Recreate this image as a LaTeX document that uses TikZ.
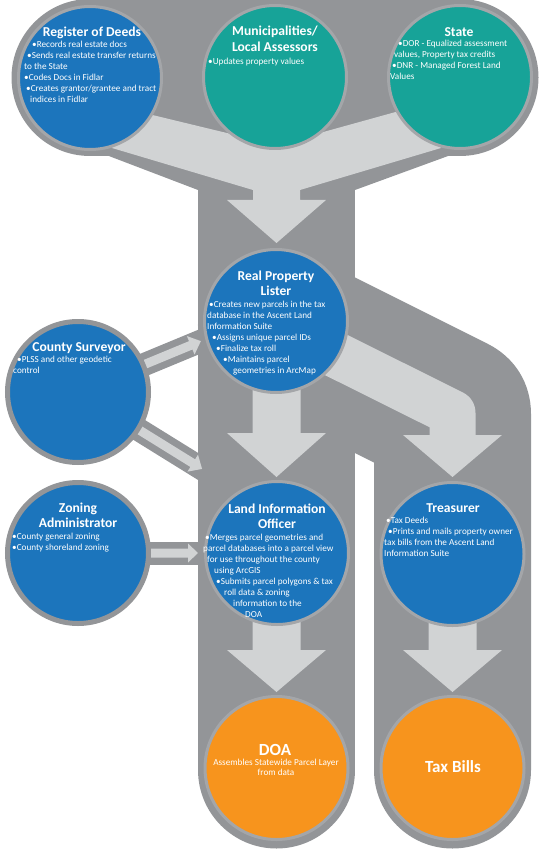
\documentclass[tikz,border=0pt]{standalone}
\usepackage{fontspec}
\setmainfont{Carlito}

\definecolor{bandgray}{HTML}{939598}
\definecolor{flowgray}{HTML}{D1D3D4}
\definecolor{ringgray}{HTML}{A4A6A9}
\definecolor{officeblue}{HTML}{1C75BC}
\definecolor{stateteal}{HTML}{17A398}
\definecolor{outorange}{HTML}{F7941D}

\tikzset{
  office/.style={circle, draw=ringgray, line width=3pt, minimum size=143pt, inner sep=0pt},
  bluebox/.style={office, fill=officeblue},
  tealbox/.style={office, fill=stateteal},
  orangebox/.style={office, fill=outorange},
  sidebox/.style={bluebox, draw=bandgray, line width=5pt, minimum size=141pt},
  heading/.style={text=white, font=\bfseries\fontsize{13.6}{15.5}\selectfont, align=center, inner sep=0pt, anchor=base},
  bigheading/.style={heading, font=\bfseries\fontsize{17}{19}\selectfont},
  notes/.style={text=white, font=\fontsize{9.2}{11}\selectfont, align=left, inner sep=0pt, anchor=base west},
  band/.style={draw=bandgray, line width=157pt, line cap=round, line join=round},
  feedband/.style={draw=bandgray, line width=23pt},
  flow/.style={fill=flowgray},
}

\begin{document}
\begin{tikzpicture}[x=1pt, y=-1pt]
\useasboundingbox (0,0) rectangle (539,850);

% gray channels
\draw[band] (90,78) -- (460,78);
\fill[bandgray] (80,145) -- (198,190) -- (355,190) -- (470,148) -- (470,78) -- (80,78) -- cycle;
\draw[band] (276.5,150) -- (276.5,770);
\draw[band] (276.5,326) -- (452.5,414) -- (452.5,770);

% side feeds
\begin{scope}[shift={(78,392)}, rotate=22.5]
  \draw[feedband] (0,0) -- (150,0);
  \fill[flow] (70,-4.5) -- (122,-4.5) -- (122,-10) -- (133,0) -- (122,10) -- (122,4.5) -- (70,4.5) -- cycle;
\end{scope}
\begin{scope}[shift={(78,392)}, rotate=-31.8]
  \draw[feedband] (0,0) -- (160,0);
  \fill[flow] (70,-4.5) -- (135,-4.5) -- (135,-10) -- (146,0) -- (135,10) -- (135,4.5) -- (70,4.5) -- cycle;
\end{scope}
\begin{scope}[shift={(78,553)}]
  \draw[feedband] (0,0) -- (130,0);
  \fill[flow] (72,-4.5) -- (110,-4.5) -- (110,-9.5) -- (120,0) -- (110,9.5) -- (110,4.5) -- (72,4.5) -- cycle;
\end{scope}

% flows
\fill[flow] (112,148) -- (253,190) -- (253,200) -- (227,200) -- (276.5,243) -- (326,200)
  -- (300,200) -- (300,190) -- (441,148) -- (410,108) -- (276.5,145) -- (140,112) -- cycle;
\draw[flowgray, line width=46pt, line join=round] (290,332) -- (452.5,413) -- (452.5,436);
\fill[flow] (403,435) -- (502,435) -- (452.5,477) -- cycle;
\foreach \cx/\ty/\hy/\tip in {276.5/385/433/477, 276.5/610/650/692, 452.5/610/650/692}
  \fill[flow] (\cx-24,\ty) -- (\cx+24,\ty) -- (\cx+24,\hy) -- (\cx+49.5,\hy) -- (\cx,\tip)
    -- (\cx-49.5,\hy) -- (\cx-24,\hy) -- cycle;

% offices
\node[bluebox] (deeds) at (90,78) {};
\node[tealbox] (towns) at (275,77) {};
\node[tealbox] (state) at (460,77) {};
\node[bluebox] (lister) at (276,321) {};
\node[sidebox] (surveyor) at (78,392) {};
\node[sidebox] (zoning) at (78,553) {};
\node[bluebox] (lio) at (277,553) {};
\node[bluebox] (treasurer) at (452.5,554) {};
\node[orangebox] (doa) at (276.5,768) {};
\node[orangebox] (bills) at (452.5,768) {};

% texts (multi-line nodes sit on their last baseline)
\node[heading] (deedsT) at (92,37) {Register of Deeds};
\node[notes] (deedsN) at (24,103) {\hspace*{8pt}•Records real estate docs\\
  \hspace*{3pt}•Sends real estate transfer returns\\
  to the State\\
  •Codes Docs in Fidlar\\
  \hspace*{2pt}•Creates grantor/grantee and tract\\
  \hspace*{6pt}indices in Fidlar};

\node[heading] (townsT) at (275,51.5) {Municipalities/\\Local Assessors};
\node[notes] (townsN) at (208,64.5) {•Updates property values};

\node[heading] (stateT) at (459,37) {State};
\node[notes] (stateN) at (390,79.5) {\hspace*{8pt}•DOR - Equalized assessment\\
  \hspace*{4pt}values, Property tax credits\\
  \hspace*{2pt}•DNR - Managed Forest Land\\
  Values};

\node[heading] (listerT) at (276,295.5) {Real Property\\Lister};
\node[notes] (listerN) at (207,373.5) {\hspace*{2pt}•Creates new parcels in the tax\\
  database in the Ascent Land\\
  Information Suite\\
  \hspace*{5pt}•Assigns unique parcel IDs\\
  \hspace*{9pt}•Finalize tax roll\\
  \hspace*{16pt}•Maintains parcel\\
  \hspace*{26pt}geometries in ArcMap};

\node[heading] (surveyorT) at (79,351) {County Surveyor};
\node[notes] (surveyorN) at (13,373.5) {\hspace*{4pt}•PLSS and other geodetic\\
  control};

\node[heading] (zoningT) at (78,527.5) {Zoning\\Administrator};
\node[notes] (zoningN) at (12,550.5) {•County general zoning\\
  •County shoreland zoning};

\node[heading] (lioT) at (277,528.5) {Land Information\\Officer};
\node[notes] (lioN) at (203,617.5) {\hspace*{2pt}•Merges parcel geometries and\\
  parcel databases into a parcel view\\
  \hspace*{4pt}for use throughout the county\\
  \hspace*{11pt}using ArcGIS\\
  \hspace*{13pt}•Submits parcel polygons \& tax\\
  \hspace*{21pt}roll data \& zoning\\
  \hspace*{30pt}information to the\\
  \hspace*{42pt}DOA};

\node[heading] (treasurerT) at (453,512) {Treasurer};
\node[notes] (treasurerN) at (384,556.5) {\hspace*{2pt}•Tax Deeds\\
  \hspace*{4pt}•Prints and mails property owner\\
  tax bills from the Ascent Land\\
  Information Suite};

\node[bigheading] (doaT) at (275,755) {DOA};
\node[notes, align=center, anchor=base, font=\fontsize{9.2}{10}\selectfont] (doaN) at (276,775.5) {Assembles Statewide Parcel Layer\\from data};

\node[bigheading] (billsT) at (453,772) {Tax Bills};
\end{tikzpicture}
\end{document}
